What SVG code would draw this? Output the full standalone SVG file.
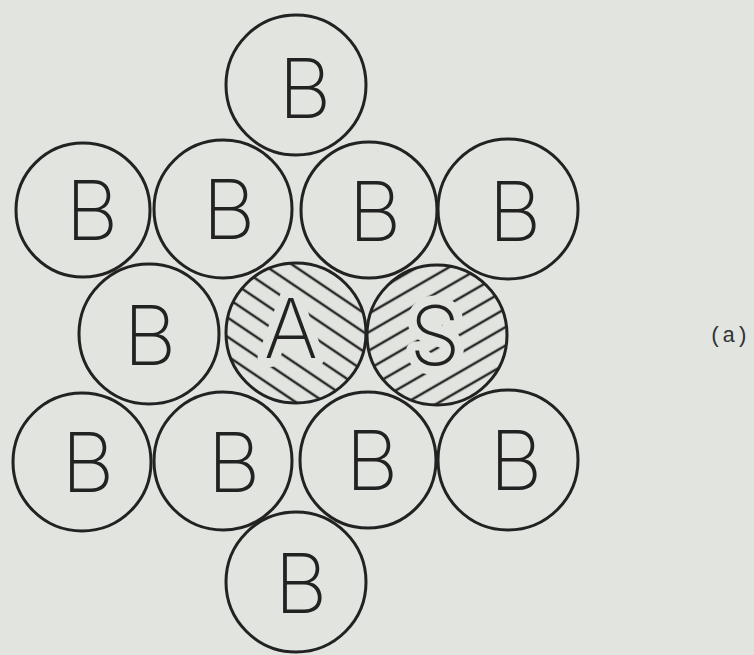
<svg xmlns="http://www.w3.org/2000/svg" width="754" height="655" viewBox="0 0 754 655">
  <defs>
    <pattern id="hatchA" patternUnits="userSpaceOnUse" width="20" height="16" patternTransform="rotate(34)">
      <line x1="0" y1="8" x2="20" y2="8" stroke="#2a2a2a" stroke-width="2.5"/>
    </pattern>
    <pattern id="hatchS" patternUnits="userSpaceOnUse" width="20" height="16" patternTransform="rotate(-30)">
      <line x1="0" y1="8" x2="20" y2="8" stroke="#2a2a2a" stroke-width="2.5"/>
    </pattern>
  </defs>
  <style>
    .c { fill: none; stroke: #222; stroke-width: 3; }
    .t { font-family: "Inter", "DejaVu Sans", "Liberation Sans", sans-serif; font-weight: 200; font-size: 82px; fill: #222; text-anchor: middle; }
    .th { paint-order: stroke; stroke: #e1e4df; stroke-width: 18; stroke-linejoin: round; }
    .lab { font-family: "Liberation Mono", monospace; font-size: 22px; fill: #333; }
  </style>
  <rect x="0" y="0" width="754" height="655" fill="#e1e4df"/>

  <g id="b-top"><circle class="c" cx="296" cy="85" r="70"/><text class="t" x="305" y="118">B</text></g>

  <g id="b-r2-1"><circle class="c" cx="83" cy="210" r="67"/><text class="t" x="92" y="240">B</text></g>
  <g id="b-r2-2"><circle class="c" cx="223" cy="209" r="69"/><text class="t" x="229" y="239">B</text></g>
  <g id="b-r2-3"><circle class="c" cx="369" cy="210" r="68"/><text class="t" x="375" y="241">B</text></g>
  <g id="b-r2-4"><circle class="c" cx="508" cy="209" r="70"/><text class="t" x="515" y="241">B</text></g>

  <g id="b-r3"><circle class="c" cx="149" cy="334" r="70"/><text class="t" x="150" y="365">B</text></g>
  <g id="a-node">
    <circle cx="296" cy="333" r="70" fill="url(#hatchA)"/>
    <circle class="c" cx="296" cy="333" r="70"/>
    <text class="t th" x="291" y="358">A</text>
  </g>
  <g id="s-node">
    <circle cx="437" cy="335" r="70" fill="url(#hatchS)"/>
    <circle class="c" cx="437" cy="335" r="70"/>
    <text class="t th" x="435" y="365">S</text>
  </g>

  <g id="b-r4-1"><circle class="c" cx="82" cy="462" r="69"/><text class="t" x="88" y="492">B</text></g>
  <g id="b-r4-2"><circle class="c" cx="223" cy="461" r="69"/><text class="t" x="234" y="492">B</text></g>
  <g id="b-r4-3"><circle class="c" cx="368" cy="460" r="68"/><text class="t" x="372" y="490">B</text></g>
  <g id="b-r4-4"><circle class="c" cx="508" cy="460" r="70"/><text class="t" x="516" y="490">B</text></g>

  <g id="b-bottom"><circle class="c" cx="296" cy="582" r="70"/><text class="t" x="301" y="613">B</text></g>

  <text class="lab" x="709" y="342">(a)</text>
</svg>
